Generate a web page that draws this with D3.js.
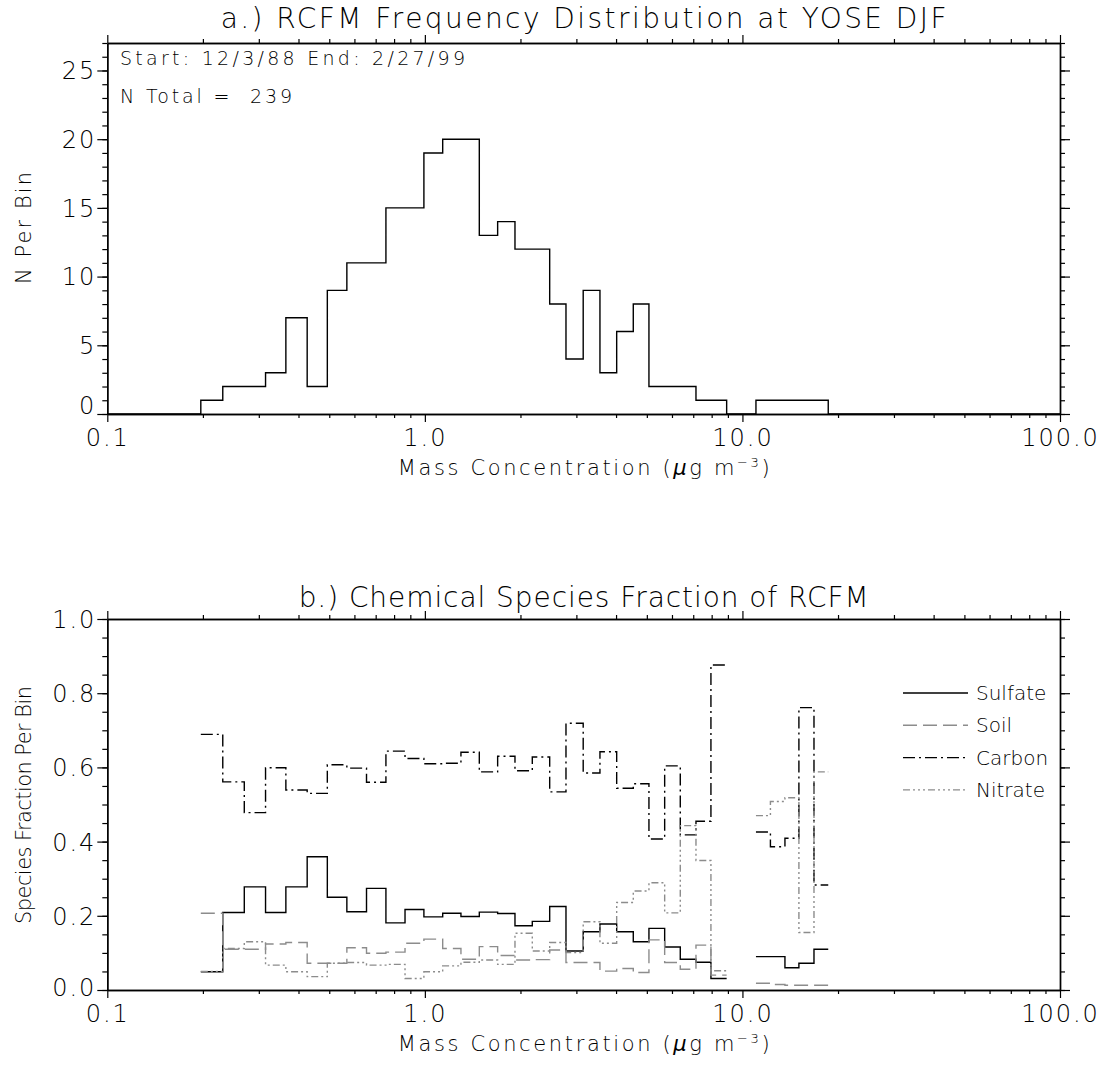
<!DOCTYPE html>
<html>
<head>
<meta charset="utf-8">
<script src="https://cdn.jsdelivr.net/npm/d3@7"></script>
<style>
  body { margin: 0; background: #fff; }
  svg text { font-family: 'DejaVu Sans', sans-serif; font-weight: 200; fill: #000; }
</style>
</head>
<body>
<svg id="chart" width="1102" height="1065"></svg>
<script>
'use strict';

// bin edges in ug/m3 (36 bins)
var binEdges = [0.197, 0.231, 0.270, 0.315, 0.365, 0.426, 0.493, 0.568, 0.655, 0.754,
  0.866, 0.993, 1.138, 1.299, 1.484, 1.695, 1.922, 2.179, 2.472, 2.782,
  3.152, 3.559, 4.018, 4.532, 5.077, 5.690, 6.372, 7.140, 7.958, 8.919,
  9.913, 11.03, 12.25, 13.61, 15.06, 16.80, 18.63];

var binCounts = [1, 2, 2, 3, 7, 2, 9, 11, 11, 15, 15, 19, 20, 20, 13, 14, 12, 12, 8, 4,
  9, 3, 6, 8, 2, 2, 2, 1, 1, 0, 0, 1, 1, 1, 1, 1];

// species fraction per bin, null where the bin is empty
var sulfate = [0.049, 0.209, 0.278, 0.209, 0.278, 0.359, 0.250, 0.211, 0.274, 0.181,
  0.217, 0.197, 0.207, 0.198, 0.210, 0.206, 0.173, 0.185, 0.225, 0.105,
  0.157, 0.178, 0.157, 0.130, 0.166, 0.116, 0.083, 0.075, 0.031, null,
  null, 0.090, 0.090, 0.060, 0.072, 0.110];
var soil = [0.207, 0.110, 0.110, 0.124, 0.128, 0.072, 0.072, 0.114, 0.099, 0.102,
  0.126, 0.137, 0.112, 0.083, 0.117, 0.093, 0.081, 0.082, 0.108, 0.074,
  0.074, 0.051, 0.058, 0.047, 0.135, 0.074, 0.056, 0.121, 0.040, null,
  null, 0.018, 0.015, 0.013, 0.013, 0.013];
var carbon = [0.689, 0.561, 0.478, 0.599, 0.539, 0.530, 0.607, 0.598, 0.560, 0.644,
  0.624, 0.610, 0.611, 0.641, 0.588, 0.630, 0.591, 0.628, 0.534, 0.719,
  0.585, 0.642, 0.544, 0.556, 0.407, 0.604, 0.418, 0.455, 0.876, null,
  null, 0.426, 0.386, 0.409, 0.761, 0.283];
var nitrate = [0.050, 0.112, 0.130, 0.067, 0.049, 0.036, 0.072, 0.074, 0.067, 0.069,
  0.031, 0.049, 0.065, 0.075, 0.081, 0.069, 0.153, 0.105, 0.128, 0.101,
  0.184, 0.126, 0.236, 0.267, 0.289, 0.208, 0.443, 0.349, 0.052, null,
  null, 0.470, 0.508, 0.518, 0.155, 0.588];

var xTicks = [0.1, 1, 10, 100];
var xTickLabels = ['0.1', '1.0', '10.0', '100.0'];
var countTicks = [0, 5, 10, 15, 20, 25];
var countMinor = d3.range(0, 28);
var fracTicks = [0, 0.2, 0.4, 0.6, 0.8, 1.0];
var fracTickLabels = ['0.0', '0.2', '0.4', '0.6', '0.8', '1.0'];
var fracMinor = d3.range(0, 21).map(function(i) { return i * 0.05; });

var titleA = 'a.) RCFM Frequency Distribution at YOSE DJF';
var titleB = 'b.) Chemical Species Fraction of RCFM';
var startEnd = 'Start: 12/3/88 End: 2/27/99';
var nTotal = 'N Total =  239';

var GRAY = '#8c8c8c';
var species = [
  { name: 'Sulfate', values: sulfate, color: '#000', dash: null },
  { name: 'Soil', values: soil, color: GRAY, dash: '14,6' },
  { name: 'Carbon', values: carbon, color: '#000', dash: '12,4,2,4' },
  { name: 'Nitrate', values: nitrate, color: GRAY, dash: '7,3,2,3,2,3,2,3' }
];

var svg = d3.select('#chart');
var left = 107.3, right = 1060;

var x = d3.scaleLog().domain([0.1, 100]).range([left, right]);
var yCount = d3.scaleLinear().domain([0, 27]).range([414, 43]);
var yFrac = d3.scaleLinear().domain([0, 1]).range([990, 619]);

var xMinor = x.ticks().filter(function(v) {
  return xTicks.indexOf(+v.toPrecision(3)) < 0;
});

// zeroLift: the lowest y label sits a bit above its tick, clear of the x labels
function drawFrame(g, y, yMajor, yLabels, yMinor, zeroLift) {
  var top = y.range()[1], bottom = y.range()[0];

  // minor ticks first, then major with labels
  [[d3.axisBottom, bottom], [d3.axisTop, top]].forEach(function(p) {
    g.append('g').attr('transform', 'translate(0,' + p[1] + ')')
      .call(p[0](x).tickValues(xMinor).tickSize(4).tickSizeOuter(0).tickFormat(''));
    g.append('g').attr('class', p[1] === bottom ? 'xmajor' : null)
      .attr('transform', 'translate(0,' + p[1] + ')')
      .call(p[0](x).tickValues(xTicks).tickSize(8).tickSizeOuter(0)
        .tickFormat(p[1] === bottom ? function(d, i) { return xTickLabels[i]; } : ''));
  });

  [[d3.axisLeft, left], [d3.axisRight, right]].forEach(function(p) {
    g.append('g').attr('transform', 'translate(' + p[1] + ',0)')
      .call(p[0](y).tickValues(yMinor).tickSize(5).tickSizeOuter(0).tickFormat(''));
    g.append('g').attr('class', p[1] === left ? 'ymajor' : null)
      .attr('transform', 'translate(' + p[1] + ',0)')
      .call(p[0](y).tickValues(yMajor).tickSize(10).tickSizeOuter(0)
        .tickFormat(p[1] === left ? function(d, i) { return yLabels[i]; } : ''));
  });

  g.selectAll('.domain').attr('stroke', '#000').attr('stroke-width', 1.4);
  g.selectAll('.tick line').attr('stroke', '#000').attr('stroke-width', 1.2);
  g.selectAll('.xmajor .tick text').attr('y', 15).attr('dy', '0.71em')
    .style('font-size', '24px').style('letter-spacing', '2px').style('font-family', null);
  g.selectAll('.ymajor .tick text').attr('x', -11).attr('dy', '0.35em')
    .attr('y', function(d, i) { return i === 0 ? -zeroLift : 0; })
    .style('font-size', '24px').style('letter-spacing', '2px').style('font-family', null);
  g.selectAll('text').attr('fill', '#000');
}

function massLabel(g, yPos) {
  var t = g.append('text').attr('x', (left + right) / 2).attr('y', yPos)
    .attr('text-anchor', 'middle').attr('textLength', 372)
    .style('font-size', '21px');
  t.append('tspan').text('Mass Concentration (');
  t.append('tspan').style('font-style', 'italic').text('\u03bc');
  t.append('tspan').text('g m');
  t.append('tspan').attr('dy', -8).style('font-size', '13px').text('\u22123');
  t.append('tspan').attr('dy', 8).text(')');
}

// ---- panel a: frequency histogram ----
var gA = svg.append('g');
drawFrame(gA, yCount, countTicks, countTicks.map(String), countMinor, 9);

var histPts = [[0.1, 0]];
binCounts.forEach(function(c, i) { histPts.push([binEdges[i], c]); });
histPts.push([binEdges[binEdges.length - 1], 0], [100, 0]);

var stepLine = function(y) {
  return d3.line()
    .x(function(d) { return x(d[0]); })
    .y(function(d) { return y(d[1]); })
    .curve(d3.curveStepAfter);
};

gA.append('path').datum(histPts)
  .attr('d', stepLine(yCount))
  .attr('fill', 'none').attr('stroke', '#000').attr('stroke-width', 1.4);

gA.append('text').attr('x', (left + right) / 2).attr('y', 28)
  .attr('text-anchor', 'middle').attr('textLength', 726)
  .style('font-size', '28px').text(titleA);
gA.append('text').attr('x', 120).attr('y', 65).attr('textLength', 345)
  .style('font-size', '19px').text(startEnd);
gA.append('text').attr('x', 120).attr('y', 103).attr('textLength', 172)
  .style('font-size', '19px').style('white-space', 'pre').text(nTotal);
massLabel(gA, 475);
gA.append('text').attr('transform', 'translate(31,228) rotate(-90)')
  .attr('text-anchor', 'middle').attr('textLength', 112)
  .style('font-size', '21px').text('N Per Bin');

// ---- panel b: species fractions ----
var gB = svg.append('g');
drawFrame(gB, yFrac, fracTicks, fracTickLabels, fracMinor, 3);

function segments(values) {
  // split the per-bin values into runs of non-empty bins
  var runs = [], cur = null;
  values.forEach(function(v, i) {
    if (v == null) { cur = null; return; }
    if (!cur) { cur = []; runs.push(cur); }
    cur.push([binEdges[i], v]);
    if (i + 1 >= values.length || values[i + 1] == null) cur.push([binEdges[i + 1], v]);
  });
  return runs;
}

species.forEach(function(s) {
  gB.append('g').selectAll('path')
    .data(segments(s.values))
    .enter().append('path')
    .attr('d', stepLine(yFrac))
    .attr('fill', 'none')
    .attr('stroke', s.color)
    .attr('stroke-width', 1.4)
    .attr('stroke-dasharray', s.dash);
});

var legend = gB.append('g').selectAll('g').data(species).enter().append('g')
  .attr('transform', function(d, i) { return 'translate(0,' + (693 + i * 32.3) + ')'; });
legend.append('line').attr('x1', 903).attr('x2', 968)
  .attr('stroke', function(d) { return d.color; })
  .attr('stroke-width', 1.4)
  .attr('stroke-dasharray', function(d) { return d.dash; });
legend.append('text').attr('x', 976).attr('dy', '0.35em')
  .style('font-size', '20px')
  .attr('fill', function(d) { return d.color; })
  .text(function(d) { return d.name; });

gB.append('text').attr('x', (left + right) / 2).attr('y', 607)
  .attr('text-anchor', 'middle').attr('textLength', 570)
  .style('font-size', '28px').text(titleB);
massLabel(gB, 1051);
gB.append('text').attr('transform', 'translate(31,805) rotate(-90)')
  .attr('text-anchor', 'middle').attr('textLength', 238)
  .style('font-size', '21px').text('Species Fraction Per Bin');
</script>
</body>
</html>
